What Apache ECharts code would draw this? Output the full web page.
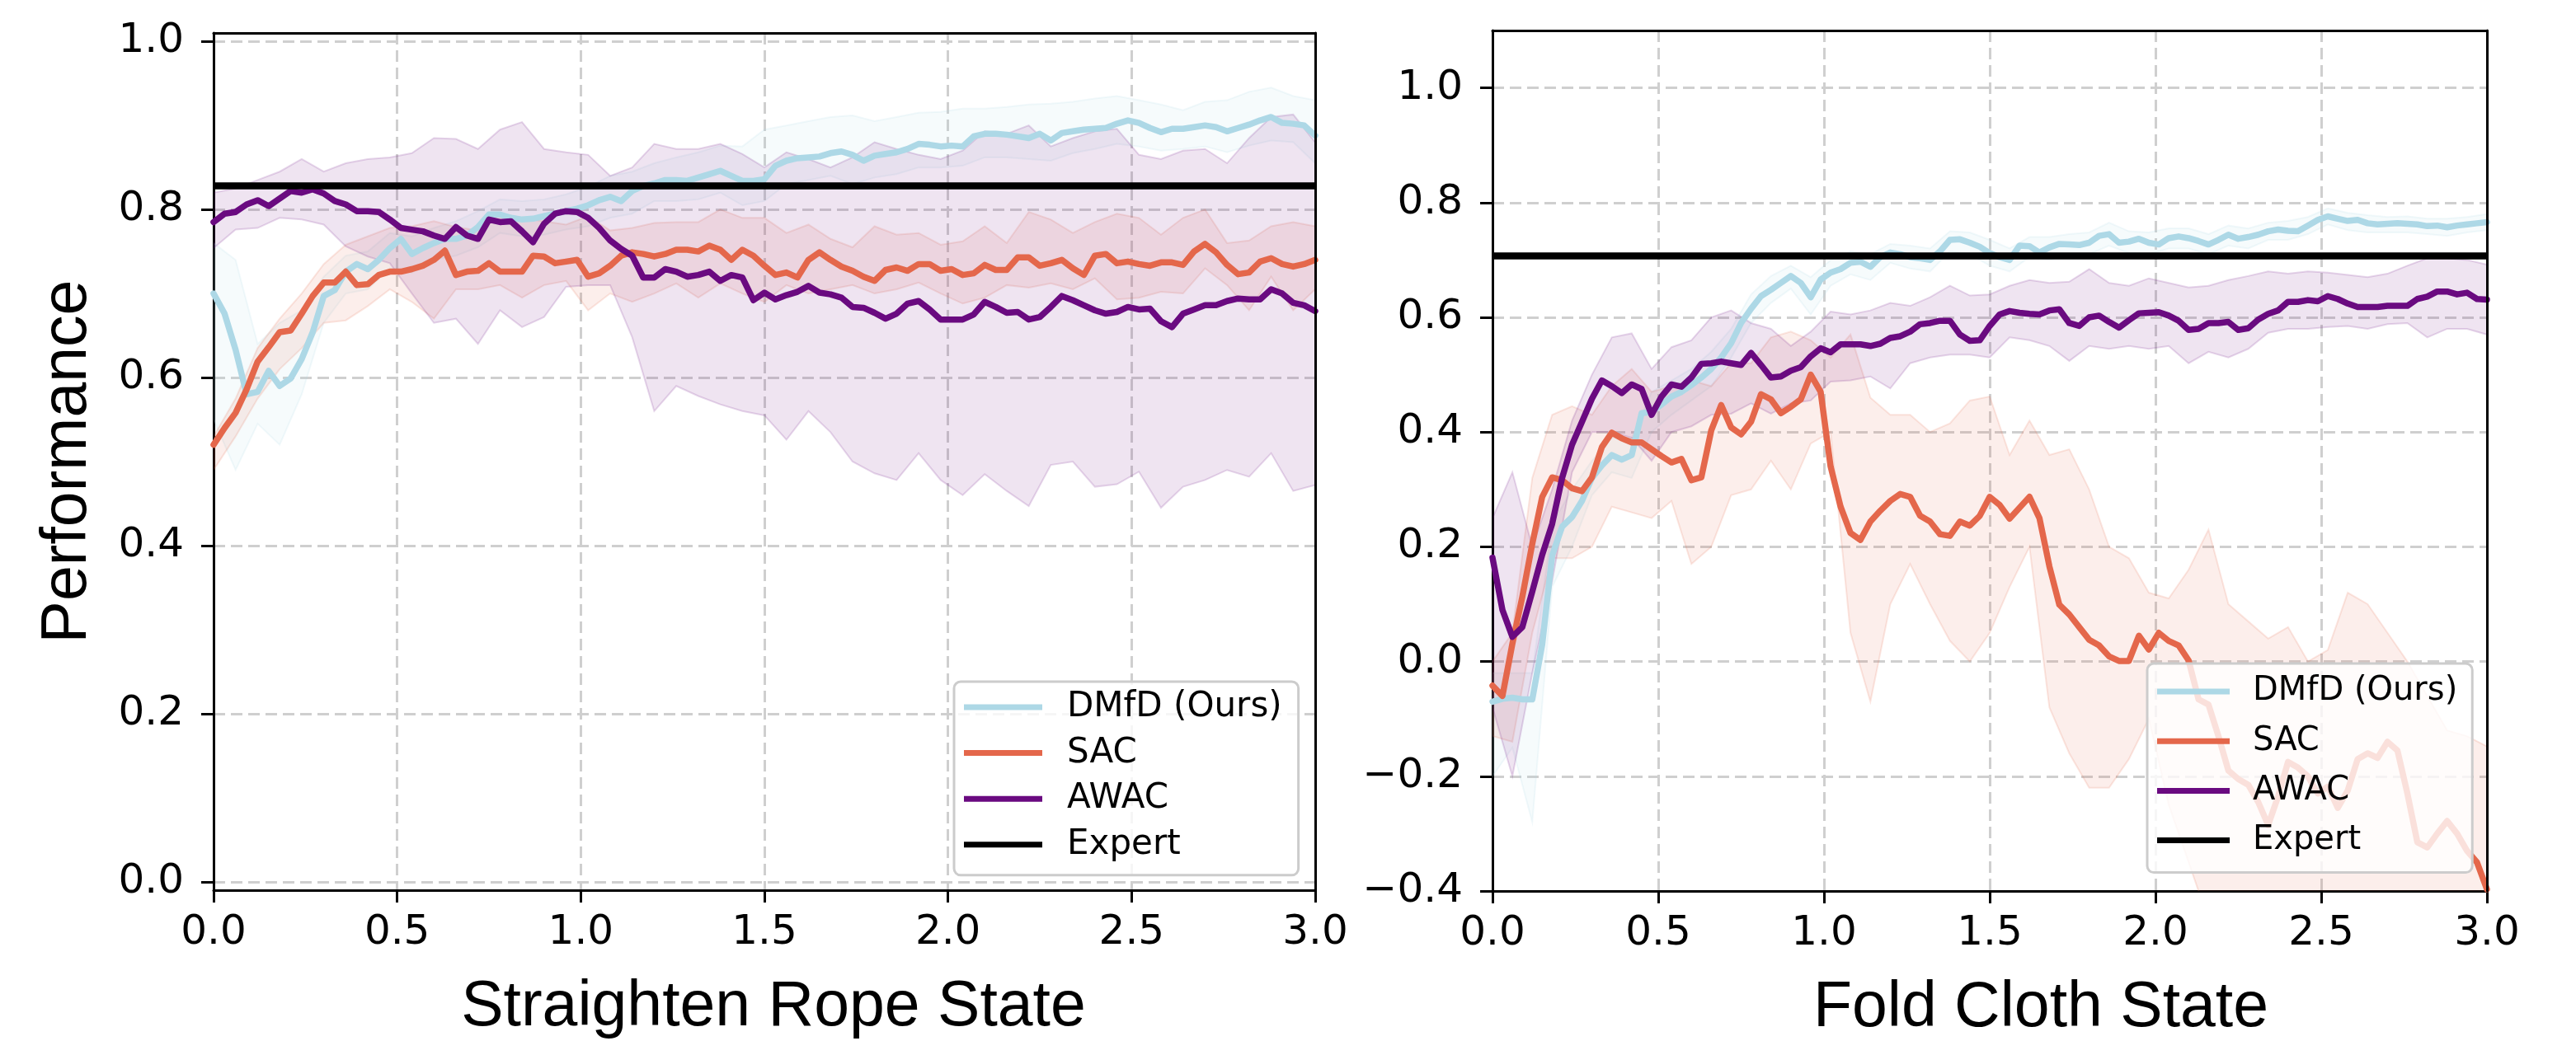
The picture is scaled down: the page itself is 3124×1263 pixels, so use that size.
<!DOCTYPE html>
<html><head><meta charset="utf-8">
<script src="https://cdn.jsdelivr.net/npm/echarts@6/dist/echarts.min.js"></script>
<style>html,body{margin:0;padding:0;background:#fff}#c{width:3124px;height:1263px}</style>
</head><body><div id="c"></div>
<script>
// ---------- names / ticks ----------
const seriesNames = ['DMfD (Ours)', 'SAC', 'AWAC', 'Expert'];
const xTicks = [0, 0.5, 1.0, 1.5, 2.0, 2.5, 3.0];
const yTicksRope = [0, 0.2, 0.4, 0.6, 0.8, 1.0];
const yTicksCloth = [-0.4, -0.2, 0, 0.2, 0.4, 0.6, 0.8, 1.0];
const xTitleRope = 'Straighten Rope State';
const xTitleCloth = 'Fold Cloth State';
const yTitle = 'Performance';
const meanStep = 0.03;   // sampling step of mean curves
const bandStep = 0.06;   // sampling step of band edges

// ---------- Straighten Rope (left) ----------
const ropeExpert = 0.828;
const ropeDMfD = [0.70,0.676,0.633,0.58,0.583,0.608,0.59,0.599,0.622,0.654,
 0.697,0.704,0.726,0.735,0.729,0.74,0.754,0.765,0.747,0.754,
 0.76,0.765,0.765,0.769,0.779,0.794,0.794,0.79,0.788,0.789,
 0.792,0.795,0.798,0.801,0.805,0.811,0.815,0.81,0.822,0.828,
 0.831,0.835,0.835,0.834,0.838,0.842,0.846,0.840,0.834,0.834,
 0.836,0.852,0.858,0.861,0.862,0.863,0.867,0.869,0.865,0.858,
 0.864,0.866,0.868,0.872,0.878,0.877,0.875,0.876,0.875,0.887,
 0.89,0.89,0.889,0.887,0.885,0.89,0.882,0.891,0.893,0.895,
 0.896,0.897,0.902,0.906,0.903,0.897,0.892,0.896,0.896,0.898,
 0.9,0.898,0.893,0.897,0.901,0.906,0.91,0.903,0.902,0.9,
 0.888];
const ropeSAC = [0.52,0.54,0.558,0.586,0.619,0.636,0.654,0.656,0.676,0.697,
 0.713,0.713,0.726,0.71,0.711,0.722,0.726,0.726,0.729,0.733,
 0.74,0.751,0.722,0.726,0.727,0.736,0.726,0.726,0.726,0.745,
 0.744,0.736,0.738,0.74,0.72,0.724,0.733,0.745,0.749,0.747,
 0.744,0.747,0.752,0.752,0.75,0.757,0.752,0.74,0.752,0.745,
 0.733,0.722,0.725,0.719,0.74,0.749,0.74,0.732,0.727,0.72,
 0.715,0.728,0.731,0.727,0.735,0.735,0.727,0.729,0.722,0.724,
 0.734,0.728,0.728,0.743,0.743,0.733,0.736,0.74,0.73,0.722,
 0.745,0.747,0.736,0.738,0.735,0.733,0.737,0.737,0.734,0.75,
 0.759,0.749,0.734,0.723,0.725,0.738,0.742,0.735,0.732,0.735,
 0.74];
const ropeAWAC = [0.785,0.795,0.797,0.806,0.811,0.804,0.813,0.822,0.82,0.824,
 0.819,0.81,0.806,0.798,0.798,0.797,0.788,0.778,0.776,0.774,
 0.769,0.765,0.779,0.769,0.765,0.788,0.785,0.786,0.774,0.761,
 0.783,0.795,0.798,0.797,0.79,0.778,0.763,0.753,0.745,0.719,
 0.719,0.729,0.726,0.72,0.722,0.726,0.715,0.722,0.719,0.692,
 0.701,0.693,0.698,0.702,0.709,0.701,0.699,0.695,0.684,0.683,
 0.677,0.67,0.676,0.688,0.691,0.681,0.669,0.669,0.669,0.675,
 0.69,0.684,0.677,0.678,0.669,0.672,0.684,0.697,0.692,0.686,
 0.68,0.676,0.678,0.684,0.681,0.682,0.667,0.66,0.676,0.681,
 0.686,0.686,0.691,0.694,0.693,0.693,0.705,0.7,0.689,0.686,
 0.679];
const ropeDMfDHigh = [0.76,0.74,0.64,0.665,0.68,0.72,0.745,0.75,0.772,0.768,
 0.778,0.786,0.798,0.812,0.81,0.812,0.818,0.827,0.84,0.845,
 0.855,0.862,0.868,0.876,0.875,0.895,0.9,0.905,0.91,0.912,
 0.905,0.91,0.915,0.916,0.92,0.92,0.922,0.925,0.926,0.928,
 0.932,0.935,0.93,0.925,0.918,0.928,0.93,0.94,0.945,0.935,
 0.93];
const ropeDMfDLow = [0.55,0.49,0.545,0.52,0.58,0.665,0.7,0.705,0.73,0.725,
 0.74,0.745,0.755,0.772,0.768,0.77,0.776,0.78,0.79,0.795,
 0.81,0.81,0.812,0.82,0.805,0.81,0.83,0.835,0.84,0.83,
 0.838,0.842,0.85,0.85,0.852,0.862,0.862,0.86,0.858,0.867,
 0.872,0.878,0.875,0.87,0.872,0.875,0.868,0.876,0.882,0.88,
 0.855];
const ropeSACHigh = [0.53,0.575,0.635,0.67,0.7,0.735,0.758,0.768,0.778,0.78,
 0.786,0.779,0.775,0.795,0.79,0.786,0.782,0.792,0.775,0.778,
 0.784,0.785,0.785,0.8,0.79,0.79,0.772,0.782,0.765,0.755,
 0.78,0.77,0.772,0.758,0.762,0.78,0.76,0.797,0.788,0.772,
 0.785,0.795,0.79,0.77,0.79,0.8,0.76,0.763,0.78,0.785,
 0.78];
const ropeSACLow = [0.49,0.53,0.575,0.61,0.635,0.665,0.668,0.685,0.705,0.69,
 0.67,0.705,0.705,0.71,0.695,0.71,0.715,0.68,0.7,0.69,
 0.7,0.712,0.695,0.712,0.7,0.69,0.71,0.7,0.705,0.71,
 0.7,0.705,0.713,0.7,0.688,0.695,0.71,0.707,0.712,0.705,
 0.718,0.693,0.695,0.702,0.7,0.73,0.71,0.68,0.72,0.68,
 0.705];
const ropeAWACHigh = [0.82,0.825,0.835,0.845,0.86,0.845,0.855,0.86,0.862,0.867,
 0.885,0.884,0.872,0.895,0.904,0.872,0.868,0.865,0.84,0.85,
 0.878,0.872,0.872,0.878,0.866,0.85,0.868,0.86,0.85,0.862,
 0.88,0.872,0.865,0.86,0.87,0.893,0.89,0.9,0.875,0.885,
 0.893,0.896,0.865,0.86,0.87,0.872,0.855,0.885,0.91,0.913,
 0.88];
const ropeAWACLow = [0.754,0.776,0.778,0.79,0.788,0.782,0.756,0.744,0.736,0.70,
 0.665,0.67,0.64,0.68,0.66,0.672,0.708,0.71,0.71,0.648,
 0.56,0.59,0.578,0.568,0.56,0.555,0.526,0.56,0.535,0.5,
 0.486,0.478,0.51,0.478,0.46,0.485,0.465,0.447,0.496,0.5,
 0.47,0.473,0.488,0.445,0.47,0.478,0.49,0.482,0.51,0.465,
 0.472];

// ---------- Fold Cloth (right) ----------
const clothExpert = 0.707;
const clothDMfD = [-0.07,-0.065,-0.063,-0.066,-0.066,0.03,0.185,0.235,0.252,0.28,
 0.32,0.342,0.36,0.352,0.36,0.433,0.435,0.448,0.462,0.47,
 0.482,0.495,0.51,0.53,0.555,0.59,0.615,0.637,0.648,0.66,
 0.672,0.66,0.635,0.666,0.678,0.684,0.695,0.697,0.688,0.705,
 0.713,0.71,0.705,0.703,0.7,0.715,0.735,0.736,0.73,0.723,
 0.712,0.705,0.70,0.725,0.724,0.713,0.722,0.728,0.727,0.726,
 0.73,0.742,0.745,0.73,0.732,0.737,0.73,0.727,0.738,0.741,
 0.738,0.733,0.727,0.735,0.744,0.737,0.74,0.744,0.75,0.753,
 0.751,0.75,0.76,0.77,0.776,0.772,0.768,0.77,0.764,0.762,
 0.763,0.764,0.763,0.762,0.759,0.76,0.757,0.76,0.762,0.764,
 0.766];
const clothSAC = [-0.042,-0.06,0.031,0.113,0.205,0.287,0.321,0.316,0.302,0.297,
 0.321,0.374,0.399,0.389,0.382,0.382,0.37,0.358,0.347,0.353,
 0.316,0.321,0.403,0.447,0.408,0.396,0.418,0.466,0.457,0.433,
 0.444,0.457,0.50,0.47,0.34,0.27,0.224,0.212,0.244,0.263,
 0.28,0.292,0.287,0.254,0.244,0.222,0.219,0.244,0.237,0.254,
 0.287,0.273,0.249,0.268,0.287,0.25,0.166,0.099,0.082,0.06,
 0.038,0.028,0.009,0.001,0.001,0.045,0.021,0.05,0.036,0.028,
 0.002,-0.066,-0.075,-0.13,-0.19,-0.205,-0.215,-0.245,-0.285,-0.235,
 -0.175,-0.185,-0.2,-0.23,-0.218,-0.255,-0.225,-0.17,-0.16,-0.168,
 -0.14,-0.155,-0.23,-0.315,-0.324,-0.3,-0.278,-0.3,-0.33,-0.35,
 -0.397];
const clothAWAC = [0.181,0.09,0.043,0.06,0.122,0.186,0.24,0.32,0.378,0.418,
 0.458,0.49,0.48,0.468,0.483,0.475,0.43,0.462,0.483,0.479,
 0.495,0.519,0.52,0.523,0.52,0.517,0.538,0.517,0.495,0.497,
 0.507,0.513,0.532,0.546,0.539,0.553,0.553,0.553,0.55,0.554,
 0.564,0.567,0.575,0.588,0.59,0.594,0.594,0.57,0.559,0.56,
 0.585,0.605,0.611,0.608,0.606,0.605,0.612,0.614,0.59,0.585,
 0.6,0.603,0.592,0.582,0.595,0.607,0.608,0.609,0.603,0.594,
 0.578,0.58,0.59,0.59,0.592,0.578,0.581,0.596,0.606,0.612,
 0.627,0.627,0.63,0.628,0.637,0.632,0.624,0.618,0.618,0.618,
 0.62,0.62,0.62,0.632,0.636,0.645,0.645,0.64,0.643,0.632,
 0.631];
const clothDMfDHigh = [-0.02,-0.02,-0.02,0.24,0.3,0.35,0.39,0.39,0.47,0.49,
 0.51,0.54,0.58,0.64,0.672,0.69,0.67,0.7,0.715,0.71,
 0.728,0.725,0.72,0.75,0.748,0.735,0.72,0.74,0.74,0.745,
 0.748,0.765,0.75,0.748,0.755,0.755,0.745,0.76,0.755,0.765,
 0.768,0.775,0.79,0.782,0.778,0.775,0.776,0.772,0.772,0.775,
 0.78];
const clothDMfDLow = [-0.2,-0.15,-0.28,0.13,0.2,0.29,0.33,0.32,0.4,0.43,
 0.455,0.48,0.53,0.59,0.625,0.65,0.605,0.655,0.675,0.665,
 0.695,0.685,0.68,0.715,0.71,0.69,0.68,0.705,0.7,0.708,
 0.71,0.725,0.712,0.71,0.72,0.72,0.71,0.725,0.72,0.735,
 0.735,0.745,0.762,0.752,0.748,0.748,0.748,0.745,0.742,0.748,
 0.752];
const clothSACHigh = [0.0,0.05,0.32,0.43,0.445,0.43,0.48,0.51,0.47,0.48,
 0.49,0.48,0.52,0.52,0.565,0.575,0.56,0.53,0.57,0.46,
 0.43,0.43,0.4,0.415,0.455,0.462,0.36,0.42,0.36,0.37,
 0.3,0.2,0.18,0.12,0.11,0.16,0.23,0.1,0.07,0.04,
 0.06,0.0,0.02,0.12,0.1,0.05,0.0,-0.06,-0.12,-0.13,
 -0.148];
const clothSACLow = [-0.13,-0.14,0.05,0.18,0.18,0.2,0.27,0.26,0.25,0.28,
 0.17,0.2,0.29,0.3,0.35,0.3,0.38,0.4,0.05,-0.07,
 0.1,0.17,0.1,0.036,0.0,0.05,0.13,0.2,-0.08,-0.16,
 -0.22,-0.22,-0.17,-0.1,-0.25,-0.35,-0.45,-0.5,-0.5,-0.5,
 -0.5,-0.5,-0.5,-0.5,-0.5,-0.5,-0.5,-0.5,-0.5,-0.5,
 -0.5];
const clothAWACHigh = [0.25,0.33,0.2,0.3,0.42,0.5,0.565,0.572,0.51,0.548,
 0.56,0.6,0.612,0.59,0.58,0.55,0.575,0.61,0.605,0.612,
 0.625,0.62,0.635,0.655,0.638,0.64,0.655,0.665,0.66,0.662,
 0.684,0.66,0.655,0.668,0.66,0.652,0.655,0.665,0.672,0.68,
 0.676,0.68,0.678,0.674,0.67,0.676,0.69,0.703,0.703,0.7,
 0.692];
const clothAWACLow = [-0.08,-0.2,-0.02,0.14,0.33,0.4,0.4,0.39,0.35,0.4,
 0.41,0.43,0.432,0.45,0.432,0.45,0.455,0.488,0.49,0.497,
 0.476,0.52,0.53,0.535,0.535,0.53,0.565,0.56,0.55,0.524,
 0.55,0.545,0.55,0.545,0.55,0.52,0.54,0.53,0.545,0.573,
 0.58,0.58,0.583,0.585,0.58,0.588,0.59,0.565,0.58,0.58,
 0.57];

// ---------- styles ----------
const colDMfD = '#add8e6', colSAC = '#e4674b', colAWAC = '#6a0a80', colExpert = '#000000';
const rgbDMfD = '173,216,230', rgbSAC = '228,103,75', rgbAWAC = '106,10,128';
const tickFont = 'DejaVu Sans', titleFont = 'Liberation Sans';

function toPairs(arr, step) { return arr.map((v, i) => [+(i * step).toFixed(3), v]); }

function bandSeries(id, high, low, rgb, gi) {
  const data = high.map((h, i) => [+(i * bandStep).toFixed(3), h, low[i]]);
  return {
    type: 'custom', name: id, xAxisIndex: gi, yAxisIndex: gi, silent: true, clip: true, z: 1,
    encode: { x: 0, y: [1, 2] }, data: data,
    renderItem: function (params, api) {
      if (params.dataIndexInside !== 0) return null;
      const up = data.map(d => api.coord([d[0], d[1]]));
      const lo = data.map(d => api.coord([d[0], d[2]])).reverse();
      return {
        type: 'polygon', shape: { points: up.concat(lo) },
        style: { fill: 'rgba(' + rgb + ',0.11)', stroke: 'rgba(' + rgb + ',0.16)', lineWidth: 2 }
      };
    }
  };
}
function lineSeries(name, arr, color, gi, z) {
  return {
    type: 'line', name: name, xAxisIndex: gi, yAxisIndex: gi, data: toPairs(arr, meanStep),
    showSymbol: false, symbol: 'none', z: z, clip: true,
    color: color, itemStyle: { color: color },
    lineStyle: { color: color, width: 7.5, join: 'round', cap: 'round' }
  };
}
function expertSeries(val, gi) {
  return {
    type: 'line', name: 'Expert', xAxisIndex: gi, yAxisIndex: gi, data: [[0, val], [3, val]],
    showSymbol: false, symbol: 'none', z: 6, color: colExpert, itemStyle: { color: colExpert },
    lineStyle: { color: colExpert, width: 8.5 }
  };
}
const fmt = v => (Math.round(v * 10) / 10).toFixed(1).replace('-', '\u2212');
function xAxisCfg(gi, title, pad) {
  return {
    type: 'value', gridIndex: gi, min: 0, max: 3, position: 'bottom',
    axisLine: { show: true, onZero: false, lineStyle: { color: '#000', width: 3 } },
    axisTick: { show: true, length: 15, customValues: xTicks, lineStyle: { color: '#000', width: 3 } },
    axisLabel: { customValues: xTicks, formatter: fmt, fontFamily: tickFont, fontSize: 50, color: '#000', margin: 27 },
    splitLine: { show: true, lineStyle: { color: '#cfcfcf', width: 3, type: [14, 7] } },
    name: title, nameLocation: 'middle', nameGap: 104,
    nameTextStyle: { fontFamily: titleFont, fontSize: 77, color: '#000', padding: pad }
  };
}
function spineX(gi) {   // top spine
  return {
    type: 'value', gridIndex: gi, min: 0, max: 3, position: 'top', z: 10,
    axisLine: { show: true, onZero: false, lineStyle: { color: '#000', width: 3 } },
    axisTick: { show: false }, axisLabel: { show: false }, splitLine: { show: false }
  };
}
function yAxisCfg(gi, min, max, ticks, title) {
  const cfg = {
    type: 'value', gridIndex: gi, min: min, max: max, position: 'left',
    axisLine: { show: true, onZero: false, lineStyle: { color: '#000', width: 3 } },
    axisTick: { show: true, length: 15, customValues: ticks, lineStyle: { color: '#000', width: 3 } },
    axisLabel: { customValues: ticks, formatter: fmt, fontFamily: tickFont, fontSize: 50, color: '#000', margin: 36 },
    splitLine: { show: true, lineStyle: { color: '#cfcfcf', width: 3, type: [14, 7] } }
  };
  if (title) {
    cfg.name = title; cfg.nameLocation = 'middle'; cfg.nameGap = 138; cfg.nameRotate = 90;
    cfg.nameTextStyle = { fontFamily: titleFont, fontSize: 77, color: '#000' };
  }
  return cfg;
}
function spineY(gi, min, max) {   // right spine
  return {
    type: 'value', gridIndex: gi, min: min, max: max, position: 'right', z: 10,
    axisLine: { show: true, onZero: false, lineStyle: { color: '#000', width: 3 } },
    axisTick: { show: false }, axisLabel: { show: false }, splitLine: { show: false }
  };
}
function legendCfg(left, top, pad, gap, fs, tpad, iw) {
  return {
    data: seriesNames.map(n => ({ name: n, icon: 'rect' })),
    orient: 'vertical', left: left, top: top, selectedMode: false, z: 20,
    itemWidth: iw, itemHeight: 7, itemGap: gap, padding: pad,
    backgroundColor: 'rgba(255,255,255,0.8)', borderColor: '#cccccc', borderWidth: 3, borderRadius: 8,
    textStyle: { fontFamily: tickFont, fontSize: fs, color: '#000', lineHeight: 44, padding: [0, 0, 0, tpad] }
  };
}

const chart = echarts.init(document.getElementById('c'), null, { renderer: 'canvas' });
chart.setOption({
  animation: false,
  backgroundColor: '#ffffff',
  grid: [
    { left: 259, top: 40, width: 1336, height: 1040, show: false, outerBoundsMode: 'none', containLabel: false },
    { left: 1810, top: 37, width: 1206, height: 1044, show: false, outerBoundsMode: 'none', containLabel: false }
  ],
  xAxis: [xAxisCfg(0, xTitleRope, [0, 0, 0, 22]), xAxisCfg(1, xTitleCloth, [0, 0, 0, 124]), spineX(0), spineX(1)],
  yAxis: [yAxisCfg(0, -0.01, 1.01, yTicksRope, yTitle), yAxisCfg(1, -0.4, 1.1, yTicksCloth, null), spineY(0, -0.01, 1.01), spineY(1, -0.4, 1.1)],
  legend: [
    legendCfg(1157, 827, [9, 20, 15, 12], 11.6, 42, 25, 95),
    legendCfg(2604, 805, [12, 18, 17, 12], 16.2, 40, 23, 88)
  ],
  series: [
    bandSeries('b1', ropeDMfDHigh, ropeDMfDLow, rgbDMfD, 0),
    bandSeries('b2', ropeSACHigh, ropeSACLow, rgbSAC, 0),
    bandSeries('b3', ropeAWACHigh, ropeAWACLow, rgbAWAC, 0),
    lineSeries('DMfD (Ours)', ropeDMfD, colDMfD, 0, 3),
    lineSeries('SAC', ropeSAC, colSAC, 0, 4),
    lineSeries('AWAC', ropeAWAC, colAWAC, 0, 5),
    expertSeries(ropeExpert, 0),
    bandSeries('b4', clothDMfDHigh, clothDMfDLow, rgbDMfD, 1),
    bandSeries('b5', clothSACHigh, clothSACLow, rgbSAC, 1),
    bandSeries('b6', clothAWACHigh, clothAWACLow, rgbAWAC, 1),
    lineSeries('DMfD (Ours)', clothDMfD, colDMfD, 1, 3),
    lineSeries('SAC', clothSAC, colSAC, 1, 4),
    lineSeries('AWAC', clothAWAC, colAWAC, 1, 5),
    expertSeries(clothExpert, 1)
  ]
});
</script></body></html>
